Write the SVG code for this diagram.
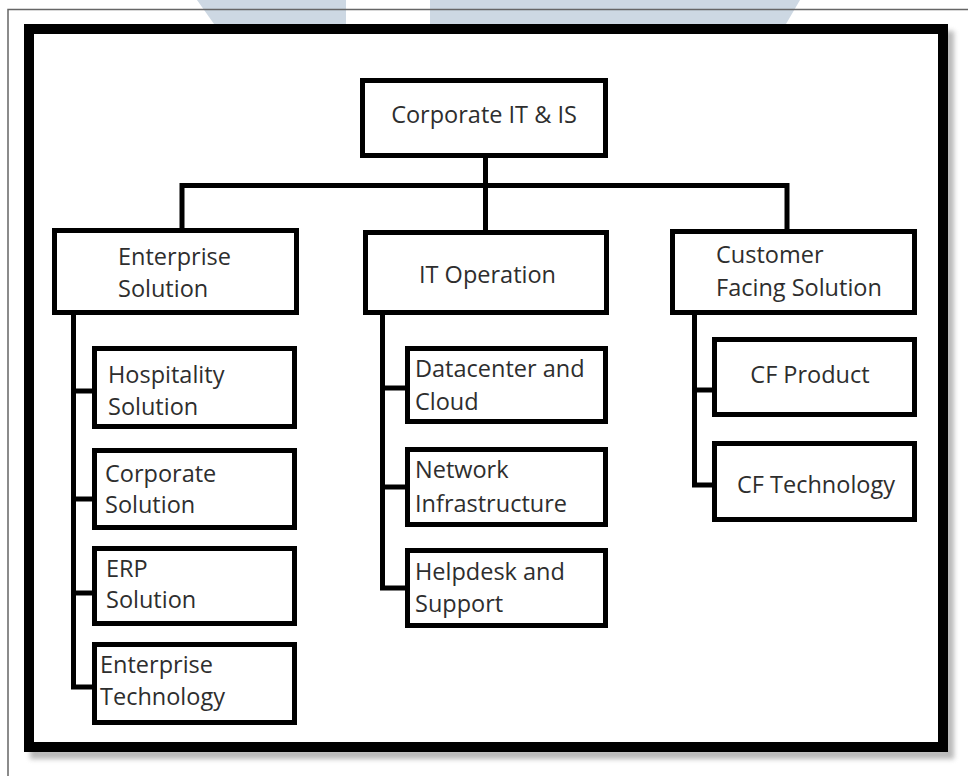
<svg xmlns="http://www.w3.org/2000/svg" width="968" height="776" viewBox="0 0 968 776">
  <style>
    .box { fill: #ffffff; stroke: #000000; stroke-width: 5; }
    .link { fill: none; stroke: #000000; stroke-width: 5; stroke-linejoin: miter; stroke-linecap: square; }
    .label { font-family: "Open Sans", "Liberation Sans", sans-serif; font-size: 23.5px; fill: #2e2e2e; }
    .mid { text-anchor: middle; }
  </style>
  <defs>
    <filter id="soft" x="-5%" y="-5%" width="110%" height="110%">
      <feGaussianBlur stdDeviation="2.5"/>
    </filter>
  </defs>

  <!-- page background -->
  <rect x="0" y="0" width="968" height="776" fill="#ffffff"/>

  <!-- pale backdrop shapes along the top edge -->
  <polygon points="197,0 346,0 346,24 214,24" fill="#cdd8e3"/>
  <polygon points="430,0 800,0 786,24 430,24" fill="#cdd8e3"/>

  <!-- thin page border -->
  <polyline points="968,9.5 8,9.5 8,776" fill="none" stroke="#666666" stroke-width="1.5"/>

  <!-- frame shadow and heavy frame -->
  <rect x="35" y="36" width="914" height="718" fill="none" stroke="#8a8a8a" stroke-width="10" opacity="0.6" filter="url(#soft)"/>
  <rect x="29" y="29" width="914" height="718" fill="#ffffff" stroke="#000000" stroke-width="10"/>

  <!-- connectors -->
  <g id="connectors" class="link">
    <path d="M485.5,158 V230"/>
    <path d="M182,228 V185.5 H787 V229"/>
    <path d="M73.5,315 V687 H92"/>
    <path d="M73.5,391 H92"/>
    <path d="M73.5,499 H92"/>
    <path d="M73.5,593 H92"/>
    <path d="M382.5,315 V588 H405"/>
    <path d="M382.5,388 H405"/>
    <path d="M382.5,487 H405"/>
    <path d="M694.5,315 V485 H712"/>
    <path d="M694.5,390 H712"/>
  </g>

  <!-- root -->
  <g id="corporate-it-is">
    <rect class="box" x="362.5" y="80.5" width="243" height="75"/>
    <text class="label mid" x="484" y="123">Corporate IT &amp; IS</text>
  </g>

  <!-- second level -->
  <g id="enterprise-solution">
    <rect class="box" x="54.5" y="230.5" width="242" height="82"/>
    <text class="label" x="118" y="265">Enterprise</text>
    <text class="label" x="118" y="297">Solution</text>
  </g>
  <g id="it-operation">
    <rect class="box" x="365.5" y="232.5" width="241" height="80"/>
    <text class="label mid" x="487.5" y="283">IT Operation</text>
  </g>
  <g id="customer-facing-solution">
    <rect class="box" x="672.5" y="231.5" width="242" height="81"/>
    <text class="label" x="716" y="263">Customer</text>
    <text class="label" x="716" y="296">Facing Solution</text>
  </g>

  <!-- enterprise solution children -->
  <g id="hospitality-solution">
    <rect class="box" x="94.5" y="348.5" width="200" height="78"/>
    <text class="label" x="108" y="383">Hospitality</text>
    <text class="label" x="108" y="415">Solution</text>
  </g>
  <g id="corporate-solution">
    <rect class="box" x="94.5" y="450.5" width="200" height="77"/>
    <text class="label" x="105" y="482">Corporate</text>
    <text class="label" x="105" y="513">Solution</text>
  </g>
  <g id="erp-solution">
    <rect class="box" x="94.5" y="548.5" width="200" height="75"/>
    <text class="label" x="106" y="577">ERP</text>
    <text class="label" x="106" y="608">Solution</text>
  </g>
  <g id="enterprise-technology">
    <rect class="box" x="94.5" y="644.5" width="200" height="78"/>
    <text class="label" x="100" y="673">Enterprise</text>
    <text class="label" x="100" y="705">Technology</text>
  </g>

  <!-- IT operation children -->
  <g id="datacenter-and-cloud">
    <rect class="box" x="407.5" y="348.5" width="198" height="73"/>
    <text class="label" x="415" y="377">Datacenter and</text>
    <text class="label" x="415" y="410">Cloud</text>
  </g>
  <g id="network-infrastructure">
    <rect class="box" x="407.5" y="449.5" width="198" height="75"/>
    <text class="label" x="415" y="478">Network</text>
    <text class="label" x="415" y="512">Infrastructure</text>
  </g>
  <g id="helpdesk-and-support">
    <rect class="box" x="407.5" y="550.5" width="198" height="75"/>
    <text class="label" x="415" y="580">Helpdesk and</text>
    <text class="label" x="415" y="612">Support</text>
  </g>

  <!-- customer facing children -->
  <g id="cf-product">
    <rect class="box" x="714.5" y="339.5" width="200" height="75"/>
    <text class="label mid" x="810" y="383">CF Product</text>
  </g>
  <g id="cf-technology">
    <rect class="box" x="714.5" y="443.5" width="200" height="76"/>
    <text class="label mid" x="816" y="493">CF Technology</text>
  </g>
</svg>
